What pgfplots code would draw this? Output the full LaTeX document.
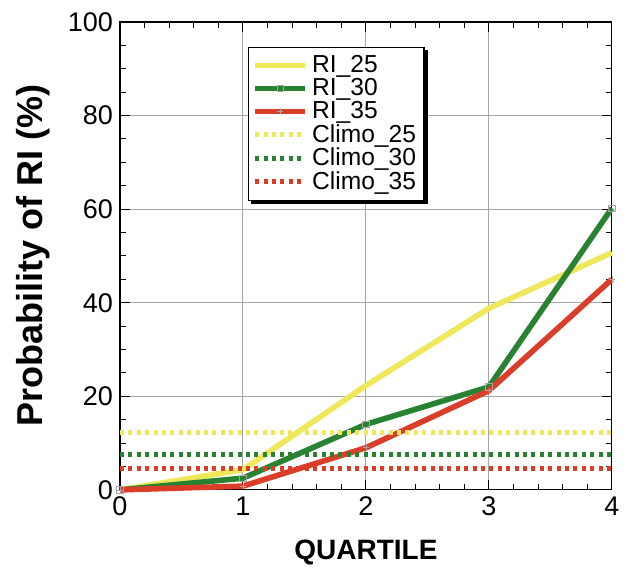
\documentclass[border=0pt]{standalone}
\usepackage{fontspec}
\setmainfont{Liberation Sans}
\usepackage{pgfplots}
\pgfplotsset{compat=1.18}
\definecolor{cy}{RGB}{238,232,90}
\definecolor{cg}{RGB}{40,130,50}
\definecolor{cr}{RGB}{218,62,40}
\begin{document}
\begin{tikzpicture}
\begin{axis}[
  scale only axis,
  width=246pt, height=234pt,
  xmin=0, xmax=4, ymin=0, ymax=100,
  xtick={0,1,2,3,4}, ytick={0,20,40,60,80,100},
  minor x tick num=4, minor y tick num=3,
  tick align=inside,
  major tick length=5pt, minor tick length=3pt,
  grid=major,
  major grid style={gray!70, line width=0.5pt},
  axis line style={line width=0.6pt},
  tick style={black, line width=0.5pt},
  /pgf/number format/assume math mode=true,
  tick label style={font=\fontsize{13.5}{15}\selectfont},
  xlabel={\textbf{QUARTILE}},
  ylabel={\textbf{Probability of RI (\%)}},
  xlabel style={font=\fontsize{14}{16}\selectfont, yshift=-5pt},
  ylabel style={font=\fontsize{18}{20}\selectfont, yshift=2pt},
  clip=false,
  legend cell align=left,
  legend style={at={(0.26,0.947)}, anchor=north west, name=leg,
    draw=black, line width=0.6pt, fill=white,
    font=\fontsize{12.3}{13}\selectfont,
    row sep=-2.6pt, inner xsep=2pt, inner ysep=2pt},
  legend image code/.code={\draw[mark repeat=2,mark phase=2,#1] plot coordinates {(0cm,0cm) (0.44cm,0cm) (0.88cm,0cm)};},
]
\addplot[cy, line width=2.8pt] coordinates {(0,0) (1,4.3) (2,22.3) (3,38.8) (4,50.7)};
\addlegendentry{RI\_25}
\addplot[cg, line width=2.8pt, mark=square, mark size=1.6pt, mark options={gray!70, line width=0.3pt}] coordinates {(0,0) (1,2.5) (2,14) (3,22) (4,60.2)};
\addlegendentry{RI\_30}
\addplot[cr, line width=2.8pt, mark=+, mark size=1.5pt, mark options={gray!70, line width=0.3pt}] coordinates {(0,0) (1,0.8) (2,9) (3,21.2) (4,45)};
\addlegendentry{RI\_35}
\addplot[cy, line width=2.5pt, dash pattern=on 2pt off 2.2pt] coordinates {(0,12.2) (4,12.2)};
\addlegendentry{Climo\_25}
\addplot[cg, line width=2.5pt, dash pattern=on 2pt off 2.2pt] coordinates {(0,7.5) (4,7.5)};
\addlegendentry{Climo\_30}
\addplot[cr, line width=2.5pt, dash pattern=on 2pt off 2.2pt] coordinates {(0,4.5) (4,4.5)};
\addlegendentry{Climo\_35}
\end{axis}
\fill[black] ([yshift=-1.6pt]leg.north east) rectangle ([xshift=1.6pt,yshift=-1.6pt]leg.south east);
\fill[black] ([xshift=1.6pt]leg.south west) rectangle ([xshift=1.6pt,yshift=-1.6pt]leg.south east);
\path (current axis.south west) ++(-60pt,-39pt) coordinate (bbA);
\path (current axis.north east) ++(7pt,11pt) coordinate (bbB);
\useasboundingbox (bbA) rectangle (bbB);
\end{tikzpicture}
\end{document}
